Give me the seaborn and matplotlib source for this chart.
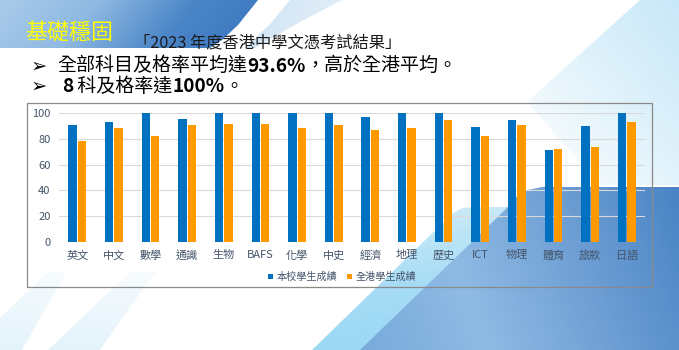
import numpy as np
import pandas as pd
import matplotlib
matplotlib.use("Agg")
import matplotlib.pyplot as plt
import seaborn as sns
from matplotlib.colors import LinearSegmentedColormap
from matplotlib.patches import Polygon, Rectangle

# ---------------- data ----------------
subjects = ["英文", "中文", "數學", "通識", "生物", "BAFS", "化學", "中史",
            "經濟", "地理", "歷史", "ICT", "物理", "體育", "旅款", "日語"]
school = [90.7, 92.8, 100, 95.3, 100, 100, 100, 100,
          96.9, 100, 100, 89.4, 94.3, 71.3, 90.2, 100]
hk_all = [78.6, 88.5, 82.4, 90.6, 91.7, 91.3, 88.0, 91.0,
          86.5, 88.3, 94.2, 82.3, 90.5, 71.8, 73.3, 92.8]
series_names = ["本校學生成績", "全港學生成績"]
y_ticks = [0, 20, 40, 60, 80, 100]

title_main = "基礎穩固"
title_sub = "「2023 年度香港中學文憑考試結果」"
line1 = [("全部科目及格率平均達", "normal"), ("93.6%", "bold"), ("，高於全港平均。", "normal")]
line2 = [("8", "bold"), (" 科及格率達", "normal"), ("100%", "bold"), ("。", "normal")]

df = pd.DataFrame({
    "subject": subjects * 2,
    "value": school + hk_all,
    "series": [series_names[0]] * len(subjects) + [series_names[1]] * len(subjects),
})

BLUE = "#0070C0"
ORANGE = "#FF9900"
TXT = "#44546A"

sns.set_theme(style="white")
plt.rcParams["font.family"] = ["Noto Sans CJK TC", "DejaVu Sans"]

W, H = 679, 350
fig = plt.figure(figsize=(W / 100, H / 100), dpi=100)
fig.patch.set_facecolor("white")

# ---------------- background decoration (pixel coords) ----------------
bg = fig.add_axes([0, 0, 1, 1], zorder=0)
bg.axis("off")


def grad_poly(ax, pts, colors, direction=(1, 0), alpha=1.0, z=1):
    poly = Polygon(pts, closed=True, facecolor="none", edgecolor="none")
    ax.add_patch(poly)
    xs = [p[0] for p in pts]
    ys = [p[1] for p in pts]
    x0, x1, y0, y1 = min(xs), max(xs), min(ys), max(ys)
    X, Y = np.meshgrid(np.linspace(0, 1, 200), np.linspace(0, 1, 120))
    T = X * direction[0] + Y * direction[1]
    T = (T - T.min()) / (T.max() - T.min())
    cmap = LinearSegmentedColormap.from_list("g", colors)
    im = ax.imshow(T, cmap=cmap, extent=(x0, x1, y1, y0), origin="upper",
                   aspect="auto", alpha=alpha, zorder=z, interpolation="bilinear")
    im.set_clip_path(poly)


# top-left blue band
grad_poly(bg, [(0, 0), (258, 0), (250, 10), (238, 25), (222, 40), (210, 48), (0, 48)],
          ["#a9cbea", "#8fb9e2", "#4a85c7", "#3a76c0"], direction=(1, 0.15))
# light sliver behind swoosh
grad_poly(bg, [(290, 0), (342, 0), (300, 22), (255, 48), (245, 48), (272, 22)],
          ["#c9e0f3", "#e3eff9"], direction=(1, 0.3), alpha=0.9)
# top-right faint cyan band
grad_poly(bg, [(640, 0), (679, 0), (679, 185), (600, 185), (527, 102)],
          ["#c8e8f8", "#e2f3fb", "#ffffff"], direction=(-1, 1))
# bottom-left faint bands
grad_poly(bg, [(0, 318), (48, 272), (66, 272), (22, 350), (0, 350)],
          ["#e4f3fb", "#f6fbfe"], direction=(0, -1))
grad_poly(bg, [(48, 350), (130, 272), (155, 272), (100, 350)],
          ["#e4f3fb", "#f6fbfe"], direction=(0, -1))
# cyan band bottom-right
grad_poly(bg, [(312, 350), (452, 214), (462, 208), (474, 207), (560, 207), (600, 350)],
          ["#d6effa", "#a6dcf5", "#94d5f3"], direction=(0.3, 1))
# darker blue shape bottom-right
grad_poly(bg, [(360, 350), (505, 210), (515, 198), (528, 190), (542, 187), (679, 187), (679, 350)],
          ["#78aadb", "#8fbae4", "#6e9fd4", "#4a84c5"], direction=(1, -0.2))

# chart frame
bg.add_patch(Rectangle((27, 103), 625, 184, facecolor="none", edgecolor="#8a8a8a",
                       linewidth=0.9, zorder=5))

bg.set_xlim(0, W)
bg.set_ylim(H, 0)

# ---------------- texts ----------------
bg.text(25, 34, title_main, color="#FFFF00", fontsize=15.8, va="center", ha="left",
        family=["Noto Sans CJK TC", "DejaVu Sans"], zorder=6)
bg.text(134, 43, title_sub, color="#1a1a1a", fontsize=11.7, va="center", ha="left",
        family=["Noto Sans CJK TC", "DejaVu Sans"], zorder=6)

for ypos in (66.5, 86.5):
    bg.text(31, ypos, "➢", color="black", fontsize=14, fontweight="bold",
            va="center", ha="left", family=["DejaVu Sans"], zorder=6)


def chain(ax, x, y, pieces, size):
    prev = ax.text(x, y, pieces[0][0], fontsize=size, fontweight=pieces[0][1],
                   color="black", va="center", ha="left", zorder=6)
    for txt, wt in pieces[1:]:
        prev = ax.annotate(txt, xy=(1, 0), xycoords=prev, va="bottom", ha="left",
                           fontsize=size, fontweight=wt, color="black", zorder=6)


chain(bg, 57, 65, line1, 13.7)
chain(bg, 62, 87, line2, 13.7)

# ---------------- chart ----------------
ax = fig.add_axes([59 / W, 1 - 242 / H, (645 - 59) / W, (242 - 113) / H], zorder=2)
ax.set_facecolor("none")
sns.barplot(data=df, x="subject", y="value", hue="series",
            palette=[BLUE, ORANGE], saturation=1, width=0.51, gap=0.11,
            ax=ax, edgecolor="none", linewidth=0)
ax.set_ylim(0, 100)
ax.set_xlim(-0.5, len(subjects) - 0.5)
ax.set_yticks(y_ticks)
ax.set_yticklabels([str(v) for v in y_ticks])
ax.yaxis.grid(True, color="#D9D9D9", linewidth=0.8)
ax.set_axisbelow(True)
for s in ax.spines.values():
    s.set_visible(False)
ax.tick_params(axis="both", length=0, colors=TXT, labelsize=8)
ax.tick_params(axis="y", pad=6)
ax.tick_params(axis="x", pad=6)
ax.set_xlabel("")
ax.set_ylabel("")

handles, labels = ax.get_legend_handles_labels()
ax.get_legend().remove()
leg = fig.legend(handles, labels, loc="center", bbox_to_anchor=(342 / W, 1 - 277 / H),
                 ncol=2, frameon=False, fontsize=7.3, handlelength=0.45,
                 handleheight=0.45, handletextpad=0.35, columnspacing=1.0,
                 borderaxespad=0, borderpad=0)
for t in leg.get_texts():
    t.set_color(TXT)

fig.savefig("out.png", dpi=100)
